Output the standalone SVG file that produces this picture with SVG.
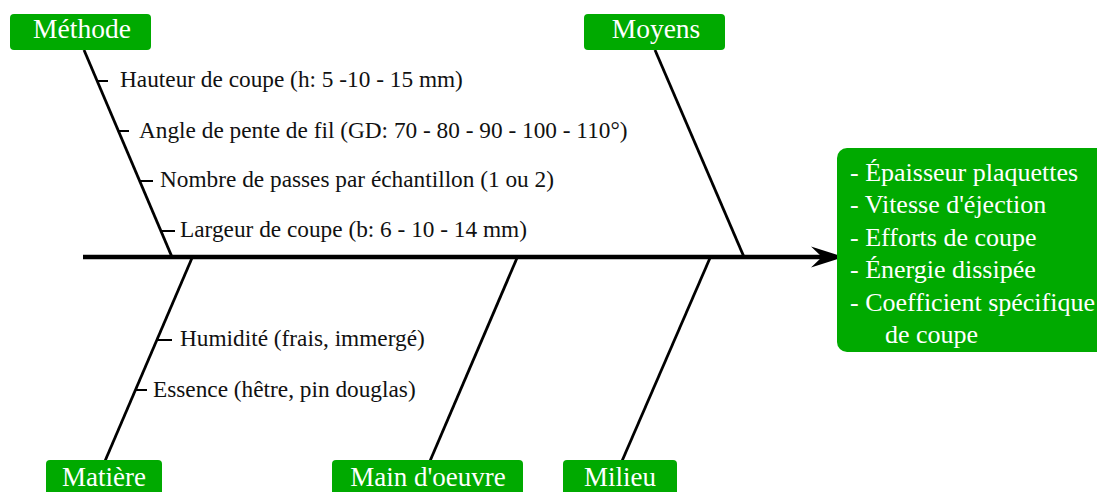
<svg xmlns="http://www.w3.org/2000/svg" width="1097" height="492" viewBox="0 0 1097 492">
<style>
.box{fill:#00aa00;}
.bt{font-family:"Liberation Serif",serif;font-size:27.5px;fill:#ffffff;text-anchor:middle;}
.bb{font-family:"Liberation Serif",serif;font-size:27px;fill:#ffffff;text-anchor:middle;}
.rt{font-family:"Liberation Serif",serif;font-size:26px;fill:#ffffff;}
.lt{font-family:"Liberation Serif",serif;font-size:23.3px;fill:#111111;}
.br{stroke:#000;stroke-width:2.8;fill:none;stroke-linecap:butt;}
.tk{stroke:#000;stroke-width:2;fill:none;}
</style>
<rect width="1097" height="492" fill="#ffffff"/>
<g id="connectors">
<line class="br" x1="84" y1="50" x2="172" y2="257"/>
<line class="br" x1="655" y1="50" x2="744" y2="257"/>
<line class="br" x1="192" y1="258" x2="105" y2="461"/>
<line class="br" x1="517" y1="258" x2="430" y2="461"/>
<line class="br" x1="710" y1="258" x2="622" y2="461"/>
<line x1="83" y1="257" x2="826" y2="257" stroke="#000" stroke-width="4.5"/>
<polygon points="844,257 811,246.5 822,257 811,267.5" fill="#000"/>
<line class="tk" x1="97" y1="81" x2="108" y2="81"/>
<line class="tk" x1="118" y1="131" x2="129" y2="131"/>
<line class="tk" x1="139.5" y1="181" x2="153" y2="181"/>
<line class="tk" x1="161" y1="231" x2="175" y2="231"/>
<line class="tk" x1="157" y1="340" x2="172" y2="340"/>
<line class="tk" x1="135" y1="390" x2="147" y2="390"/>
</g>
<g id="methode">
<rect class="box" x="10" y="14" width="141" height="36" rx="4"/>
<text class="bt" x="82" y="38">Méthode</text>
</g>
<g id="moyens">
<rect class="box" x="584" y="14" width="141" height="36" rx="4"/>
<text class="bt" x="656" y="38">Moyens</text>
</g>
<g id="matiere">
<rect class="box" x="46" y="460" width="116" height="44" rx="4"/>
<text class="bb" x="104" y="486">Matière</text>
</g>
<g id="main-oeuvre">
<rect class="box" x="332" y="460" width="191" height="44" rx="4"/>
<text class="bb" x="428" y="486">Main d'oeuvre</text>
</g>
<g id="milieu">
<rect class="box" x="563" y="460" width="114" height="44" rx="4"/>
<text class="bb" x="620" y="486">Milieu</text>
</g>
<g id="resultat">
<rect class="box" x="837" y="148" width="280" height="204" rx="10"/>
<text class="rt" x="850" y="181">- Épaisseur plaquettes</text>
<text class="rt" x="850" y="213.4">- Vitesse d'éjection</text>
<text class="rt" x="850" y="245.8">- Efforts de coupe</text>
<text class="rt" x="850" y="278.2">- Énergie dissipée</text>
<text class="rt" x="850" y="310.6">- Coefficient spécifique</text>
<text class="rt" x="885" y="343">de coupe</text>
</g>
<g id="labels">
<text class="lt" x="120" y="86.5">Hauteur de coupe (h: 5 -10 - 15 mm)</text>
<text class="lt" x="139" y="137.5">Angle de pente de fil (GD: 70 - 80 - 90 - 100 - 110°)</text>
<text class="lt" x="160" y="187">Nombre de passes par échantillon (1 ou 2)</text>
<text class="lt" x="180" y="237">Largeur de coupe (b: 6 - 10 - 14 mm)</text>
<text class="lt" x="180" y="346">Humidité (frais, immergé)</text>
<text class="lt" x="153" y="397">Essence (hêtre, pin douglas)</text>
</g>
</svg>
